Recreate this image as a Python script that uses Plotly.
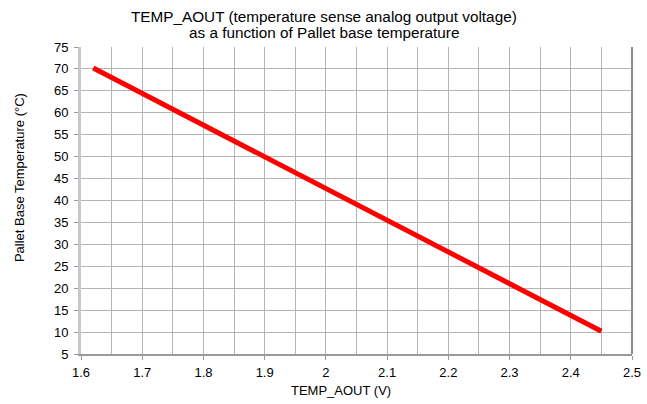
import plotly.graph_objects as go

voltage = [1.62, 2.45]
temperature = [70.2, 10.2]

x_ticks = [1.6, 1.7, 1.8, 1.9, 2.0, 2.1, 2.2, 2.3, 2.4, 2.5]
x_tick_text = ["1.6", "1.7", "1.8", "1.9", "2", "2.1", "2.2", "2.3", "2.4", "2.5"]
y_ticks = list(range(5, 80, 5))

fig = go.Figure()
fig.add_trace(go.Scatter(x=voltage, y=temperature, mode="lines",
                         line=dict(color="#ff0000", width=5), showlegend=False))

grid = "#b4b4b4"
fig.update_layout(
    width=647, height=404,
    margin=dict(l=81, r=15, t=47, b=50),
    paper_bgcolor="white", plot_bgcolor="white",
    font=dict(family="Liberation Sans, Arial, sans-serif", color="#000000", size=13),
    xaxis=dict(range=[1.6, 2.5], tickvals=x_ticks, ticktext=x_tick_text,
               showgrid=True, gridcolor=grid, gridwidth=1,
               minor=dict(dtick=0.05, tick0=1.6, showgrid=True, gridcolor=grid, gridwidth=1),
               showline=True, linecolor="#9a9a9a", linewidth=2, mirror=False,
               ticks="outside", ticklen=4, tickcolor="#9a9a9a",
               zeroline=False, automargin=False, ticklabelstandoff=1),
    yaxis=dict(range=[5, 75], tickvals=y_ticks,
               showgrid=True, gridcolor=grid, gridwidth=1,
               showline=True, linecolor="#c8c8c8", linewidth=3,
               ticks="outside", ticklen=4, tickcolor="#9a9a9a",
               zeroline=False, automargin=False, ticklabelstandoff=3),
)
title_x = (323.5 - 81) / 551
fig.add_annotation(text="TEMP_AOUT (temperature sense analog output voltage)",
                   xref="paper", yref="paper", x=title_x, y=1, yshift=31,
                   xanchor="center", yanchor="middle", showarrow=False,
                   font=dict(size=15.3))
fig.add_annotation(text="as a function of Pallet base temperature",
                   xref="paper", yref="paper", x=title_x, y=1, yshift=15,
                   xanchor="center", yanchor="middle", showarrow=False,
                   font=dict(size=15.3))
fig.add_annotation(text="TEMP_AOUT (V)",
                   xref="paper", yref="paper", x=0.472, y=-0.12,
                   xanchor="center", yanchor="middle", showarrow=False,
                   font=dict(size=13))
fig.add_annotation(text="Pallet Base Temperature (°C)", textangle=-90,
                   xref="paper", yref="paper", x=-0.1125, y=0.573,
                   xanchor="center", yanchor="middle", showarrow=False,
                   font=dict(size=13))
# right border of plot area
fig.add_shape(type="line", xref="paper", yref="paper", x0=1, x1=1, y0=0, y1=1,
              line=dict(color="#8c8c8c", width=2))

fig.write_html("out.html", config={"displayModeBar": False},
               post_script="document.body.style.margin='0';")
